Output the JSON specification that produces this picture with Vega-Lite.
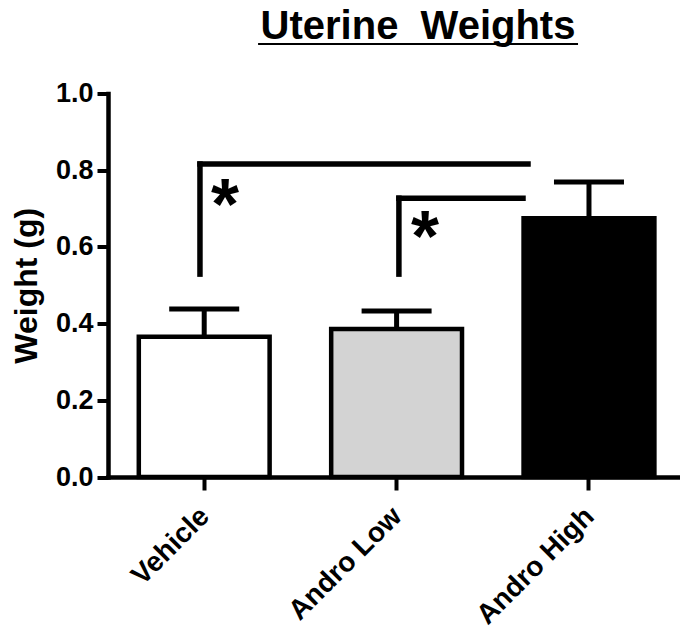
{
  "$schema": "https://vega.github.io/schema/vega-lite/v6.json",
  "autosize": {"type": "none"},
  "width": 572,
  "height": 383.5,
  "padding": {"left": 108, "top": 93.5, "right": 0, "bottom": 152},
  "background": "white",
  "config": {
    "view": {"stroke": null},
    "font": "Liberation Sans",
    "axis": {"grid": false, "domainColor": "black", "tickColor": "black", "labelColor": "black", "titleColor": "black", "labelFont": "Liberation Sans", "titleFont": "Liberation Sans", "labelFontWeight": "bold", "titleFontWeight": "bold", "domainCap": "square"},
    "axisY": {"labelFontSize": 27, "tickSize": 11, "tickWidth": 4, "domainWidth": 4.5, "labelPadding": 4, "titleFontSize": 32, "titleX": -72, "titleY": 191.75, "titleAngle": 270, "titleAlign": "center", "titleBaseline": "alphabetic"},
    "axisX": {"labelFontSize": 28, "tickSize": 13, "tickWidth": 4, "domainWidth": 4.5, "labelPadding": 12, "labelOffset": -9, "labelAngle": -45}
  },
  "title": {"text": "Uterine\u00a0 Weights", "fontSize": 40, "fontWeight": "bold", "font": "Liberation Sans", "color": "black", "anchor": "middle", "frame": "group", "baseline": "alphabetic", "offset": -36, "dx": 24},
  "datasets": {
    "groups": [
      {"group": "Vehicle", "mean": 0.366, "upper": 0.438},
      {"group": "Andro Low", "mean": 0.386, "upper": 0.433},
      {"group": "Andro High", "mean": 0.675, "upper": 0.769}
    ],
    "brackets": [
      {"x": 0.478, "x2": 2.183, "y": 0.816, "y2": 0.816},
      {"x": 0.478, "x2": 0.478, "y": 0.529, "y2": 0.816},
      {"x": 1.512, "x2": 2.157, "y": 0.727, "y2": 0.727},
      {"x": 1.512, "x2": 1.512, "y": 0.529, "y2": 0.727}
    ],
    "underline": [
      {"x": 0.78, "x2": 2.443, "y": 1.129, "y2": 1.129}
    ],
    "stars": [
      {"x": 0.608, "y": 0.647, "label": "*"},
      {"x": 1.648, "y": 0.563, "label": "*"}
    ]
  },
  "layer": [
    {
      "data": {"name": "groups"},
      "encoding": {
        "x": {"field": "group", "type": "nominal", "sort": ["Vehicle", "Andro Low", "Andro High"],
              "scale": {"paddingInner": 0.32, "paddingOuter": 0.1466, "align": 0.546},
              "axis": {"title": null}}
      },
      "layer": [
        {
          "mark": {"type": "bar", "stroke": "black", "strokeWidth": 4.5},
          "encoding": {
            "y": {"field": "mean", "type": "quantitative", "scale": {"domain": [0, 1], "nice": false}, "title": "Weight (g)", "axis": {"values": [0, 0.2, 0.4, 0.6, 0.8, 1.0], "format": ".1f"}},
            "fill": {"field": "group", "type": "nominal", "scale": {"domain": ["Vehicle", "Andro Low", "Andro High"], "range": ["#ffffff", "#d3d3d3", "#000000"]}, "legend": null}
          }
        },
        {
          "mark": {"type": "rule", "color": "black", "strokeWidth": 5},
          "encoding": {
            "y": {"field": "mean", "type": "quantitative", "title": "Weight (g)"},
            "y2": {"field": "upper"}
          }
        },
        {
          "mark": {"type": "tick", "orient": "horizontal", "color": "black", "size": 70, "thickness": 5, "opacity": 1},
          "encoding": {
            "y": {"field": "upper", "type": "quantitative", "title": "Weight (g)"}
          }
        }
      ]
    },
    {
      "layer": [
        {
          "data": {"name": "brackets"},
          "mark": {"type": "rule", "color": "black", "strokeWidth": 5.5, "strokeCap": "square"},
          "encoding": {
            "x": {"field": "x", "type": "quantitative", "scale": {"domain": [0, 2.973], "nice": false, "zero": false}, "axis": null},
            "x2": {"field": "x2"},
            "y": {"field": "y", "type": "quantitative", "title": "Weight (g)"},
            "y2": {"field": "y2"}
          }
        },
        {
          "data": {"name": "underline"},
          "mark": {"type": "rule", "color": "black", "strokeWidth": 2},
          "encoding": {
            "x": {"field": "x", "type": "quantitative", "axis": null},
            "x2": {"field": "x2"},
            "y": {"field": "y", "type": "quantitative", "title": "Weight (g)"},
            "y2": {"field": "y2"}
          }
        },
        {
          "data": {"name": "stars"},
          "mark": {"type": "text", "font": "Liberation Sans", "fontWeight": "bold", "fontSize": 72, "align": "center", "baseline": "alphabetic", "color": "black"},
          "encoding": {
            "x": {"field": "x", "type": "quantitative", "axis": null},
            "y": {"field": "y", "type": "quantitative", "title": "Weight (g)"},
            "text": {"field": "label"}
          }
        }
      ]
    }
  ],
  "resolve": {"scale": {"x": "independent"}, "axis": {"x": "independent"}}
}
